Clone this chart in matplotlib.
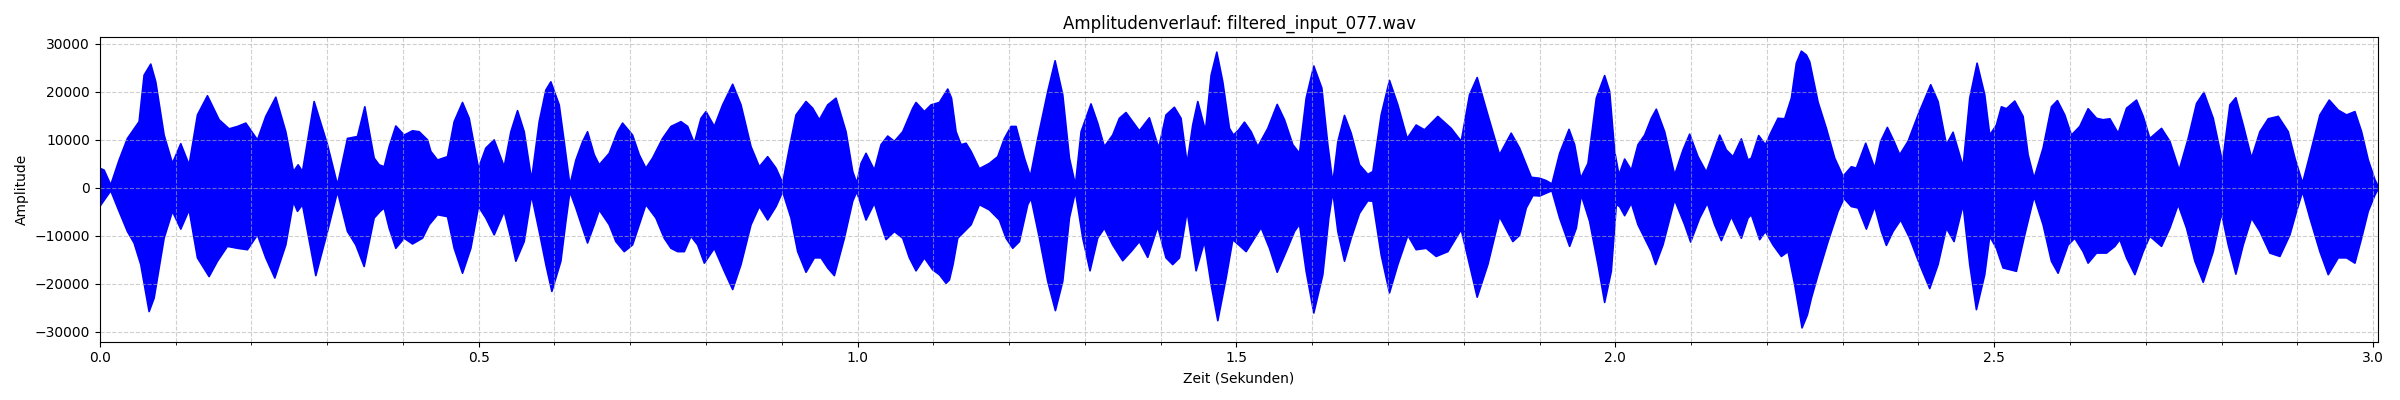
import numpy as np
import matplotlib
matplotlib.use('Agg')
import matplotlib.pyplot as plt
from matplotlib.ticker import MultipleLocator

# Huellkurve des Signals (Zeit in s, Amplitude)
t_upper = [0.0, 0.0057, 0.0145, 0.0255, 0.0365, 0.0475, 0.0519, 0.0585, 0.0673, 0.0739,
           0.0849, 0.0959, 0.1069, 0.1179, 0.1289, 0.1421, 0.1575, 0.1707, 0.1817, 0.1927,
           0.2081, 0.2191, 0.2323, 0.2455, 0.2556, 0.2618, 0.2675, 0.2829, 0.3005, 0.3137,
           0.3269, 0.3401, 0.3498, 0.3621, 0.3687, 0.3753, 0.3819, 0.3907, 0.4017, 0.4127,
           0.4215, 0.4325, 0.4369, 0.4457, 0.4589, 0.4677, 0.4787, 0.4875, 0.4998, 0.5095,
           0.5205, 0.5337, 0.5425, 0.5513, 0.5601, 0.5698, 0.5799, 0.5887, 0.5953, 0.6063,
           0.6129, 0.6204, 0.6283, 0.6371, 0.6437, 0.6525, 0.6591, 0.6723, 0.6833, 0.6899,
           0.7031, 0.7119, 0.7207, 0.7295, 0.7427, 0.7538, 0.7670, 0.7758, 0.7846, 0.7934,
           0.8000, 0.8110, 0.8220, 0.8352, 0.8462, 0.8594, 0.8704, 0.8814, 0.8924, 0.9012,
           0.9100, 0.9188, 0.9320, 0.9408, 0.9496, 0.9606, 0.9716, 0.9848, 0.9936, 0.9989,
           1.0046, 1.0112, 1.0222, 1.0310, 1.0398, 1.0486, 1.0596, 1.0728, 1.0772, 1.0882,
           1.0970, 1.1080, 1.1190, 1.1240, 1.1300, 1.1366, 1.1432, 1.1498, 1.1608, 1.1740,
           1.1850, 1.1938, 1.2026, 1.2092, 1.2202, 1.2281, 1.2378, 1.2510, 1.2607, 1.2708,
           1.2796, 1.2875, 1.2950, 1.3081, 1.3169, 1.3257, 1.3367, 1.3455, 1.3543, 1.3631,
           1.3719, 1.3851, 1.3974, 1.4071, 1.4181, 1.4269, 1.4349, 1.4423, 1.4490, 1.4591,
           1.4666, 1.4741, 1.4820, 1.4908, 1.4961, 1.5031, 1.5106, 1.5194, 1.5282, 1.5414,
           1.5538, 1.5634, 1.5744, 1.5832, 1.5920, 1.6021, 1.6127, 1.6206, 1.6272, 1.6338,
           1.6426, 1.6514, 1.6624, 1.6734, 1.6800, 1.6910, 1.7020, 1.7130, 1.7253, 1.7372,
           1.7482, 1.7658, 1.7834, 1.7966, 1.8076, 1.8177, 1.8318, 1.8472, 1.8626, 1.8736,
           1.8825, 1.8891, 1.9001, 1.9089, 1.9163, 1.9265, 1.9389, 1.9463, 1.9543, 1.9639,
           1.9749, 1.9859, 1.9925, 1.9991, 2.0048, 2.0123, 2.0211, 2.0299, 2.0387, 2.0475,
           2.0541, 2.0651, 2.0783, 2.0893, 2.0981, 2.1091, 2.1201, 2.1377, 2.1465, 2.1553,
           2.1663, 2.1751, 2.1795, 2.1892, 2.1980, 2.2059, 2.2147, 2.2235, 2.2323, 2.2389,
           2.2455, 2.2521, 2.2565, 2.2675, 2.2785, 2.2895, 2.3005, 2.3115, 2.3181, 2.3304,
           2.3423, 2.3502, 2.3590, 2.3678, 2.3753, 2.3863, 2.3995, 2.4162, 2.4259, 2.4369,
           2.4457, 2.4589, 2.4677, 2.4774, 2.4875, 2.4941, 2.5029, 2.5095, 2.5161, 2.5271,
           2.5381, 2.5447, 2.5526, 2.5645, 2.5755, 2.5834, 2.5931, 2.6019, 2.6129, 2.6239,
           2.6350, 2.6438, 2.6526, 2.6636, 2.6746, 2.6878, 2.6966, 2.7054, 2.7208, 2.7318,
           2.7441, 2.7560, 2.7670, 2.7767, 2.7890, 2.8013, 2.8110, 2.8189, 2.8286, 2.8396,
           2.8506, 2.8616, 2.8748, 2.8880, 2.8968, 2.9069, 2.9166, 2.9298, 2.9421, 2.9540,
           2.9650, 2.9760, 2.9848, 2.9936, 3.0024, 3.0068]
upper = [4100, 3700, 600, 5800, 10300, 12800, 13800, 23500, 25800, 22100,
         11000, 5100, 9200, 4800, 15200, 19200, 14200, 12300, 12800, 13500,
         10000, 14900, 18900, 11700, 3400, 4800, 3400, 18000, 9000, 600,
         10300, 10700, 16900, 6200, 4800, 4400, 8600, 12900, 11000, 11900,
         11700, 10000, 7600, 5800, 6500, 13800, 17800, 14500, 4100, 8300,
         10000, 4400, 11700, 16100, 11700, 1700, 13800, 20400, 22100, 17300,
         9600, 600, 5800, 9600, 11700, 6900, 4800, 7200, 11700, 13500,
         11000, 6900, 4100, 6200, 10300, 12800, 13800, 12800, 9300, 14500,
         15900, 12800, 17300, 21600, 17300, 8600, 4400, 6500, 4100, 1000,
         8300, 15200, 18000, 16600, 14200, 17300, 18700, 11700, 3400, 1000,
         5100, 7200, 3700, 9000, 10800, 9700, 11700, 16600, 17800, 15900,
         17300, 17800, 20600, 18700, 11700, 9000, 9300, 7600, 4000, 5100,
         6500, 10300, 12800, 12800, 6200, 2400, 10300, 20100, 26500, 19400,
         6200, 600, 11700, 17500, 13500, 8600, 11000, 14500, 15700, 13800,
         11900, 14600, 8300, 15200, 16800, 14500, 5100, 13100, 18000, 11900,
         23500, 28300, 22100, 12400, 11000, 12100, 13700, 11700, 8600, 12400,
         17400, 14200, 9000, 7200, 18700, 25400, 20800, 9000, 1000, 9600,
         15100, 11400, 4800, 2800, 3400, 15200, 22400, 17300, 10300, 13100,
         12100, 14900, 12400, 9700, 19400, 23000, 15200, 6900, 11400, 8300,
         4800, 2200, 2000, 1500, 800, 7200, 12200, 9000, 2000, 5100,
         18700, 23400, 20100, 7600, 2700, 6000, 3700, 9000, 11000, 14500,
         16400, 11700, 2700, 7900, 11200, 6500, 3300, 11000, 7900, 6500,
         10200, 5800, 6200, 10900, 9000, 11700, 14500, 14400, 18700, 26000,
         28500, 27700, 26300, 17900, 12400, 6200, 2400, 4400, 4100, 9300,
         4100, 9700, 12600, 9700, 6900, 9700, 15200, 21500, 18000, 9000,
         11600, 4400, 18700, 26000, 19400, 11000, 13100, 16900, 16500, 18100,
         14900, 6900, 2000, 8300, 16900, 18200, 15200, 11000, 12800, 16500,
         14500, 14200, 14400, 11400, 16600, 18300, 14900, 10300, 12400, 9700,
         3700, 10300, 17600, 19900, 14500, 5300, 17300, 18800, 13100, 6200,
         11700, 14400, 14900, 11700, 6200, 1000, 6900, 15200, 18300, 16200,
         15200, 15900, 11700, 5800, 1700, 300]

t_lower = [0.0, 0.0145, 0.0255, 0.0365, 0.0453, 0.0541, 0.0651, 0.0717, 0.0849, 0.0959,
           0.1069, 0.1179, 0.1289, 0.1443, 0.1553, 0.1685, 0.1817, 0.1949, 0.2081, 0.2191,
           0.2310, 0.2455, 0.2556, 0.2609, 0.2675, 0.2851, 0.3005, 0.3137, 0.3269, 0.3379,
           0.3489, 0.3621, 0.3700, 0.3753, 0.3819, 0.3907, 0.4017, 0.4127, 0.4259, 0.4347,
           0.4457, 0.4589, 0.4677, 0.4787, 0.4897, 0.4998, 0.5095, 0.5205, 0.5337, 0.5425,
           0.5491, 0.5601, 0.5698, 0.5799, 0.5887, 0.5966, 0.6085, 0.6151, 0.6204, 0.6283,
           0.6371, 0.6437, 0.6525, 0.6591, 0.6723, 0.6811, 0.6921, 0.7031, 0.7119, 0.7207,
           0.7339, 0.7449, 0.7538, 0.7626, 0.7714, 0.7802, 0.7890, 0.7978, 0.8110, 0.8242,
           0.8352, 0.8462, 0.8594, 0.8704, 0.8814, 0.8924, 0.9012, 0.9122, 0.9210, 0.9320,
           0.9430, 0.9518, 0.9606, 0.9694, 0.9826, 0.9936, 0.9989, 1.0046, 1.0112, 1.0222,
           1.0310, 1.0376, 1.0486, 1.0596, 1.0684, 1.0772, 1.0882, 1.0992, 1.1080, 1.1168,
           1.1212, 1.1260, 1.1322, 1.1410, 1.1498, 1.1608, 1.1740, 1.1872, 1.1960, 1.2048,
           1.2136, 1.2246, 1.2290, 1.2400, 1.2510, 1.2611, 1.2708, 1.2796, 1.2875, 1.2972,
           1.3068, 1.3169, 1.3257, 1.3367, 1.3499, 1.3609, 1.3719, 1.3829, 1.3961, 1.4071,
           1.4159, 1.4248, 1.4349, 1.4468, 1.4578, 1.4666, 1.4754, 1.4864, 1.4952, 1.5031,
           1.5128, 1.5238, 1.5326, 1.5436, 1.5538, 1.5656, 1.5766, 1.5832, 1.5920, 1.6021,
           1.6140, 1.6219, 1.6272, 1.6338, 1.6426, 1.6514, 1.6624, 1.6734, 1.6800, 1.6910,
           1.7020, 1.7130, 1.7262, 1.7372, 1.7504, 1.7636, 1.7790, 1.7966, 1.8076, 1.8177,
           1.8318, 1.8472, 1.8648, 1.8736, 1.8825, 1.8913, 1.9001, 1.9089, 1.9163, 1.9265,
           1.9397, 1.9485, 1.9551, 1.9661, 1.9771, 1.9859, 1.9947, 2.0013, 2.0057, 2.0123,
           2.0211, 2.0299, 2.0387, 2.0475, 2.0532, 2.0629, 2.0783, 2.0915, 2.0994, 2.1113,
           2.1214, 2.1311, 2.1399, 2.1531, 2.1663, 2.1751, 2.1795, 2.1905, 2.1980, 2.2081,
           2.2191, 2.2279, 2.2367, 2.2464, 2.2534, 2.2587, 2.2675, 2.2807, 2.2939, 2.3018,
           2.3115, 2.3203, 2.3313, 2.3423, 2.3511, 2.3577, 2.3665, 2.3766, 2.3885, 2.4017,
           2.4149, 2.4259, 2.4369, 2.4470, 2.4589, 2.4677, 2.4765, 2.4875, 2.4941, 2.5029,
           2.5117, 2.5293, 2.5403, 2.5526, 2.5645, 2.5755, 2.5843, 2.5975, 2.6063, 2.6173,
           2.6239, 2.6350, 2.6482, 2.6592, 2.6658, 2.6746, 2.6856, 2.6966, 2.7054, 2.7208,
           2.7318, 2.7428, 2.7538, 2.7648, 2.7758, 2.7890, 2.8000, 2.8088, 2.8189, 2.8286,
           2.8396, 2.8506, 2.8638, 2.8770, 2.8902, 2.8990, 2.9069, 2.9166, 2.9298, 2.9408,
           2.9540, 2.9650, 2.9760, 2.9848, 2.9936, 3.0024, 3.0068]
lower = [-3900, -600, -4900, -9100, -11500, -16000, -25800, -23000, -10500, -4900,
         -8600, -4600, -14600, -18500, -15300, -12200, -12600, -12900, -9800, -14600,
         -18800, -11900, -2900, -4900, -3500, -18300, -9100, -800, -9100, -11900,
         -16400, -6300, -4900, -4200, -8400, -12600, -10500, -11700, -10500, -7700,
         -5600, -6000, -12600, -17800, -12600, -3900, -6300, -9800, -4900, -10500,
         -15300, -11200, -1500, -9100, -16000, -21600, -15300, -7000, -800, -4200,
         -8400, -11500, -7700, -4600, -7700, -11200, -13300, -11900, -7700, -3500,
         -6300, -10500, -12600, -13300, -13300, -10100, -11900, -15700, -12600, -17400,
         -21200, -16000, -7700, -3900, -6700, -3900, -800, -6300, -13300, -17600,
         -14600, -14600, -16700, -18300, -10500, -2800, -800, -3500, -6700, -3200,
         -7700, -10800, -9100, -10500, -14600, -17300, -14600, -17100, -18100, -19900,
         -19200, -16000, -10500, -9100, -7700, -3500, -4600, -6700, -10500, -12600,
         -11200, -3500, -2200, -10500, -19500, -25600, -19500, -6300, -800, -10500,
         -17300, -10500, -8400, -11900, -15200, -13300, -11200, -14500, -8100, -14600,
         -16000, -14600, -4900, -17300, -11200, -20200, -27700, -18800, -10800, -11900,
         -13300, -10500, -8300, -12600, -17600, -13300, -9100, -7600, -17400, -26100,
         -18100, -6300, -800, -9100, -15300, -10500, -5300, -2700, -2800, -14000,
         -21900, -16000, -9900, -12900, -12600, -14300, -13300, -8700, -16000, -22800,
         -16000, -6000, -11200, -9900, -4200, -1600, -1700, -1100, -600, -6300,
         -12200, -8400, -1500, -7000, -16000, -23900, -17400, -3500, -3900, -5800,
         -3200, -7700, -10500, -13300, -16000, -11900, -2500, -7700, -11300, -6300,
         -3200, -7700, -11000, -6000, -10500, -6300, -5600, -10800, -9100, -11900,
         -14300, -13300, -20200, -29200, -26500, -23000, -18100, -11200, -4900, -2200,
         -3900, -4200, -8600, -3900, -9100, -12000, -9100, -6700, -10500, -16000,
         -21000, -16000, -8400, -11200, -3500, -16000, -25400, -18100, -10100, -12600,
         -16700, -17400, -9800, -1800, -7700, -15300, -17800, -11900, -10500, -13300,
         -15700, -13600, -13600, -12200, -10800, -14600, -18100, -13300, -10100, -12200,
         -8400, -3500, -8400, -15300, -19700, -13300, -5300, -11900, -18000, -11900,
         -6300, -9100, -13600, -14300, -9800, -4900, -800, -6300, -13300, -18100,
         -14600, -14600, -15700, -10500, -4900, -1500, -200]

file_name = 'filtered_input_077.wav'

fig = plt.figure(figsize=(24, 4))
ax = fig.add_subplot(111)

# obere Kurve vorwaerts, untere rueckwaerts -> ein Polygon
poly_t = np.concatenate([t_upper, t_lower[::-1]])
poly_a = np.concatenate([upper, lower[::-1]])
ax.fill(poly_t, poly_a, facecolor='blue', edgecolor='blue', linewidth=1.2, joinstyle='round')

ax.set_title(f'Amplitudenverlauf: {file_name}')
ax.set_xlabel('Zeit (Sekunden)')
ax.set_ylabel('Amplitude')
ax.set_xlim(0, t_upper[-1])
ax.xaxis.set_major_locator(MultipleLocator(0.5))
ax.xaxis.set_minor_locator(MultipleLocator(0.1))
ax.yaxis.set_major_locator(MultipleLocator(10000))
ax.grid(True, which='both', linestyle='--', alpha=0.6)

plt.tight_layout()
plt.savefig('out.png', dpi=100)
